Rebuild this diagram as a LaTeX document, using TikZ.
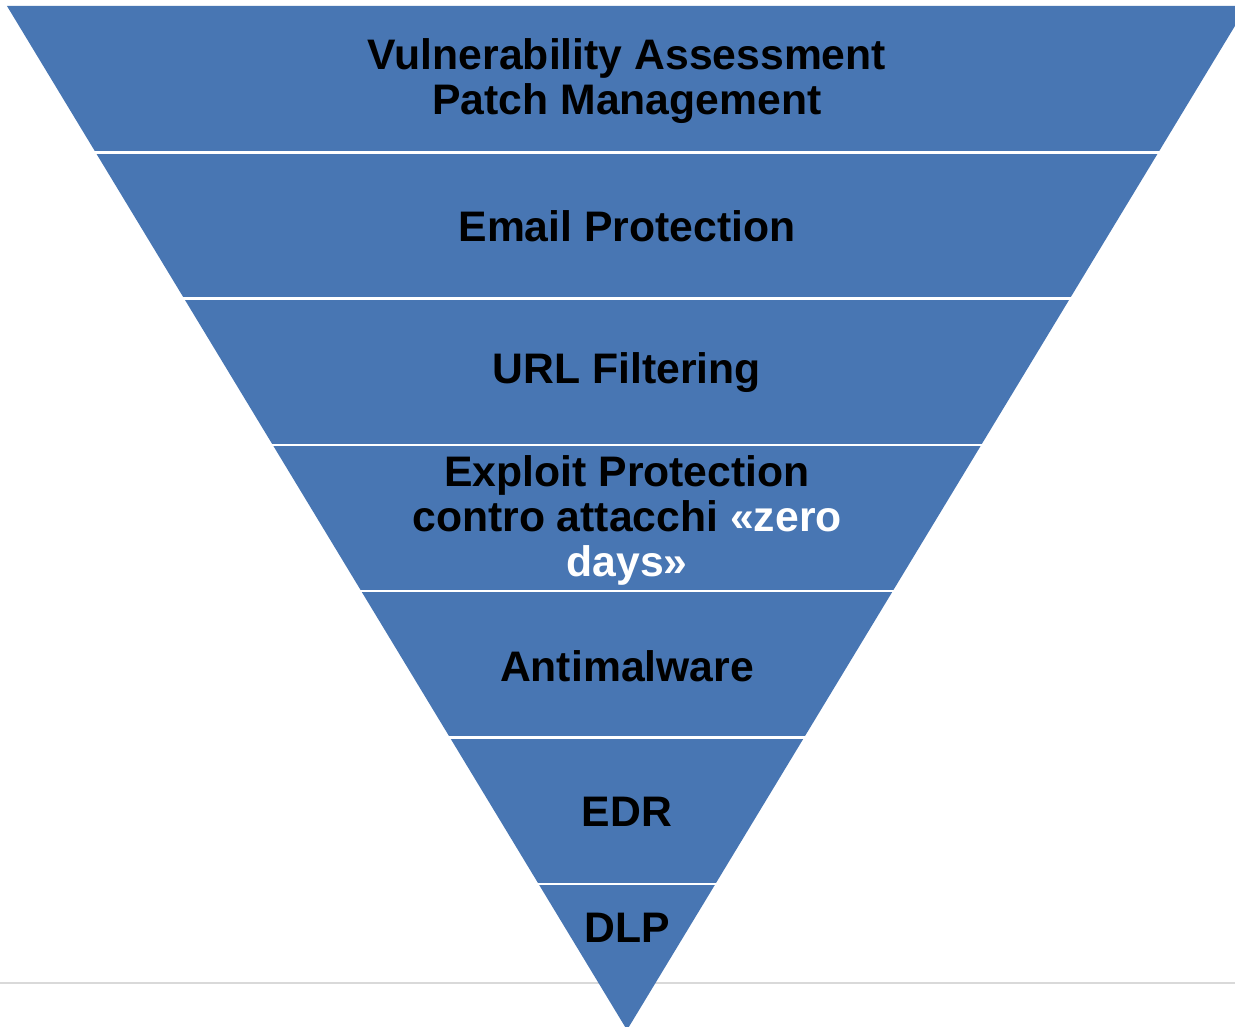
\documentclass[tikz,border=0pt]{standalone}
\usepackage{fontspec}
\setmainfont{Liberation Sans}
\definecolor{bandblue}{HTML}{4876B3}
\definecolor{rulegrey}{HTML}{D9D9D9}
\begin{document}
\begin{tikzpicture}[x=1pt,y=-1pt,
  band/.style={fill=bandblue, draw=none},
  sep/.style={draw=white, line width=2.5pt},
  lbl/.style={font=\fontsize{42.7}{45}\selectfont\bfseries, align=center, text=black, inner sep=0pt}]
\useasboundingbox (0,0) rectangle (1235,1027);
\draw[rulegrey, line width=1.5pt] (0,983) -- (1235,983);
\foreach \k in {0,...,6}{
  \pgfmathsetmacro\ya{6+146.3*\k}
  \pgfmathsetmacro\yb{6+146.3*(\k+1)}
  \pgfmathsetmacro\wa{(1030-\ya)*0.6055}
  \pgfmathsetmacro\wb{(1030-\yb)*0.6055}
  \fill[band] (627-\wa,\ya) -- (627+\wa,\ya) -- (627+\wb,\yb) -- (627-\wb,\yb) -- cycle;
}
\foreach \k in {1,...,6}{
  \pgfmathsetmacro\ya{6+146.3*\k}
  \pgfmathsetmacro\wa{(1030-\ya)*0.6055}
  \draw[sep] (627-\wa-3,\ya) -- (627+\wa+3,\ya);
}
\node[lbl] (vuln) at (627,81) {Vulnerability Assessment\\Patch Management};
\node[lbl] (email) at (627,226) {Email Protection};
\node[lbl] (url) at (627,373) {URL Filtering};
\node[lbl] (exploit) at (627,520) {Exploit Protection\\contro attacchi \textcolor{white}{«zero}\\\textcolor{white}{days»}};
\node[lbl] (anti) at (627,666) {Antimalware};
\node[lbl] (edr) at (627,812) {EDR};
\node[lbl] (dlp) at (627,928) {DLP};
\end{tikzpicture}
\end{document}
